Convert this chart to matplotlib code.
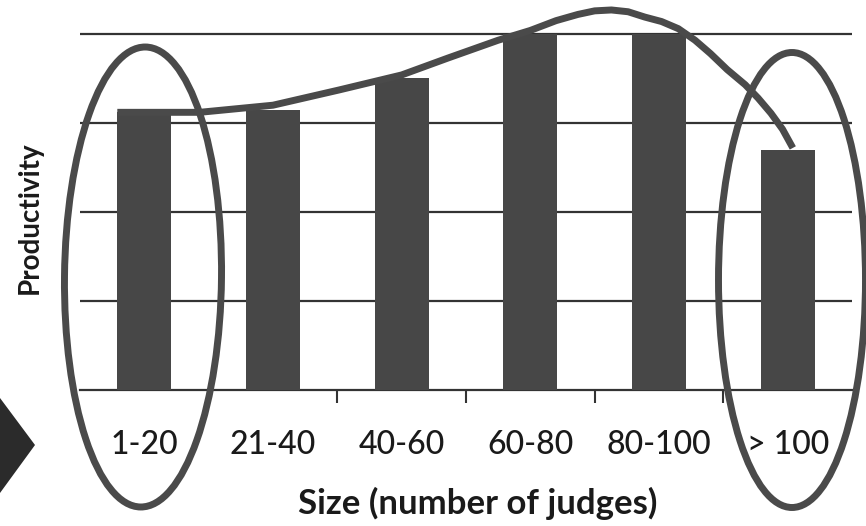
import matplotlib
matplotlib.use("Agg")
import matplotlib.pyplot as plt
from matplotlib.patches import Ellipse, Polygon
from matplotlib.ticker import FixedLocator

# ---- data ----
categories = ['1-20', '21-40', '40-60', '60-80', '80-100', '> 100']
productivity = [3.12, 3.15, 3.5, 4.0, 4.0, 2.7]

# hand-drawn trend curve (category index, productivity units)
trend_x = [-0.21, 0.43, 1.0, 1.51, 2.0, 2.36, 2.75, 3.0, 3.2, 3.37, 3.5, 3.63, 3.76, 3.89, 4.02, 4.15,
           4.28, 4.40, 4.53, 4.67, 4.77, 4.87, 4.96, 5.04]
trend_y = [3.12, 3.12, 3.2, 3.37, 3.54, 3.73, 3.93, 4.04, 4.15, 4.22, 4.26, 4.27, 4.25, 4.19, 4.14, 4.06,
           3.93, 3.78, 3.6, 3.43, 3.28, 3.11, 2.93, 2.72]

plt.rcParams['font.family'] = ['Lato', 'DejaVu Sans']

W, H = 866, 526
fig = plt.figure(figsize=(W / 100, H / 100), dpi=100)
fig.patch.set_facecolor('white')

ax = fig.add_axes([80 / W, (H - 390) / H, 772 / W, 390 / H])
x = list(range(len(categories)))
ax.bar(x, productivity, width=0.42, color='#474747', zorder=3)

ax.set_xlim(-0.5, 5.5)
ax.set_ylim(0, 390 / 89)

ax.set_yticks([1, 2, 3, 4])
ax.yaxis.grid(True, color='#333333', linewidth=1.6, zorder=1)
ax.tick_params(axis='y', left=False, labelleft=False)

ax.set_xticks(x)
ax.set_xticklabels(categories, fontsize=23, color='#1a1a1a', fontweight='medium')
ax.tick_params(axis='x', which='major', length=0, pad=29)
ax.xaxis.set_minor_locator(FixedLocator([0.5, 1.5, 2.5, 3.5, 4.5]))
ax.tick_params(axis='x', which='minor', length=9, width=1.5, color='#333333', direction='out')

for s in ['left', 'right', 'top']:
    ax.spines[s].set_visible(False)
ax.spines['bottom'].set_color('#333333')
ax.spines['bottom'].set_linewidth(1.6)

# trend curve
ax.plot(trend_x, trend_y, color='#4a4a4a', linewidth=5, solid_capstyle='butt',
        solid_joinstyle='round', clip_on=False, zorder=5)

# axis titles
fig.text(478 / W, 1 - 503 / H, 'Size (number of judges)', ha='center', va='center',
         fontsize=25, fontweight='bold', color='#1a1a1a')
fig.text(30 / W, 1 - 218 / H, 'Productivity', ha='center', va='center', rotation=90,
         fontsize=20, fontweight='bold', color='#1a1a1a')

# ellipses (in inches)
tr = fig.dpi_scale_trans
fig.add_artist(Ellipse((1.43, 2.49), 1.57, 4.60, angle=-0.6, fill=False,
                       edgecolor='#4a4a4a', linewidth=5, transform=tr))
fig.add_artist(Ellipse((7.92, 2.46), 1.47, 4.55, angle=0.0, fill=False,
                       edgecolor='#4a4a4a', linewidth=5, transform=tr))

# dark arrow shape at left edge
fig.add_artist(Polygon([(0, 1.28), (0.35, 0.81), (0, 0.33)], closed=True,
                       facecolor='#2b2b2b', edgecolor='none', transform=tr))

fig.savefig('out.png', dpi=100, facecolor='white')
